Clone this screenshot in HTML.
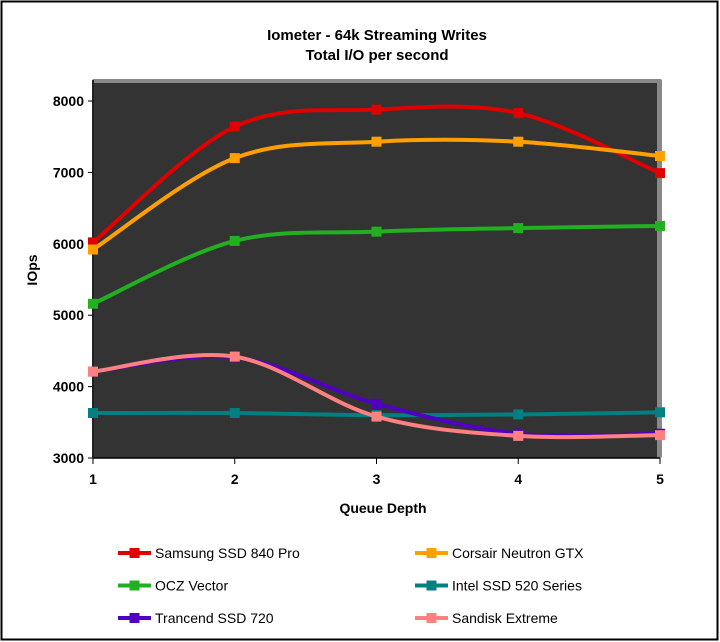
<!DOCTYPE html>
<html><head><meta charset="utf-8"><style>
html,body{margin:0;padding:0;background:#fff;}
svg{display:block;font-family:"Liberation Sans",Arial,sans-serif;}
</style></head><body>
<svg id="chart" width="720" height="642" viewBox="0 0 720 642">
<rect x="1.5" y="1.5" width="716" height="638" fill="#fff" stroke="#000" stroke-width="2"/>
<text x="377" y="40" text-anchor="middle" font-size="15" font-weight="bold">Iometer - 64k Streaming Writes</text>
<text x="377" y="60" text-anchor="middle" font-size="15" font-weight="bold">Total I/O per second</text>
<rect x="92" y="79" width="570" height="379" rx="2" fill="#888"/>
<rect x="94" y="83" width="563" height="375" fill="#333"/>
<g id="axes"></g>
<g id="series"></g>
<text x="383" y="513" text-anchor="middle" font-size="14" font-weight="bold">Queue Depth</text>
<text transform="translate(37,270) rotate(-90)" text-anchor="middle" font-size="14" font-weight="bold">IOps</text>
<g id="legend"></g>
</svg>
<script>
const categories=[1,2,3,4,5];
const yTicks=[3000,4000,5000,6000,7000,8000];
const seriesNames=["Samsung SSD 840 Pro","Corsair Neutron GTX","OCZ Vector","Intel SSD 520 Series","Trancend SSD 720","Sandisk Extreme"];
const seriesColors=["#e00000","#ffa000","#20b020","#008080","#5000c0","#ff8080"];
const samsung=[6020,7640,7880,7830,6990];
const corsair=[5920,7200,7430,7430,7230];
const ocz=[5160,6040,6170,6220,6250];
const intel=[3630,3630,3600,3610,3640];
const trancend=[4210,4410,3760,3340,3340];
const sandisk=[4210,4420,3580,3310,3320];
const allSeries=[samsung,corsair,ocz,intel,trancend,sandisk];
const NS="http://www.w3.org/2000/svg";
const x=v=>93+(v-1)*141.75;
const y=v=>458-(v-3000)*357/5000;
function mk(tag,attrs,parent){const e=document.createElementNS(NS,tag);for(const k in attrs)e.setAttribute(k,attrs[k]);parent.appendChild(e);return e;}
const axes=document.getElementById('axes');
let l=mk('line',{x1:93,y1:80,x2:93,y2:458,stroke:'#000','stroke-width':1.5},axes);


l=mk('line',{x1:93,y1:458,x2:660,y2:458,stroke:'#000','stroke-width':1.5},axes);


yTicks.forEach(t=>{
 mk('line',{x1:88,y1:y(t),x2:93,y2:y(t),stroke:'#000'},axes);
 const tx=mk('text',{x:84,y:y(t)+5,'text-anchor':'end','font-size':14,'font-weight':'bold'},axes);
 tx.textContent=t;
 
 
});
categories.forEach(c=>{
 mk('line',{x1:x(c),y1:458,x2:x(c),y2:464,stroke:'#000'},axes);
 const tx=mk('text',{x:x(c),y:484,'text-anchor':'middle','font-size':14,'font-weight':'bold'},axes);
 tx.textContent=c;
 
 
});
function smooth(pts){
 let d=`M${pts[0][0]},${pts[0][1]}`;
 for(let i=0;i<pts.length-1;i++){
  const p0=pts[i-1]||pts[i],p1=pts[i],p2=pts[i+1],p3=pts[i+2]||p2;
  const t=6;
  d+=` C${p1[0]+(p2[0]-p0[0])/t},${p1[1]+(p2[1]-p0[1])/t} ${p2[0]-(p3[0]-p1[0])/t},${p2[1]-(p3[1]-p1[1])/t} ${p2[0]},${p2[1]}`;
 }
 return d;
}
const sg=document.getElementById('series');
allSeries.forEach((vals,si)=>{
 const g=mk('g',{},sg);
 
 
 const pts=vals.map((v,i)=>[x(categories[i]),y(v)]);
 const p=mk('path',{d:smooth(pts),fill:'none',stroke:seriesColors[si],'stroke-width':4},g);
 
 
 pts.forEach(pt=>{
  const r=mk('rect',{x:pt[0]-5,y:pt[1]-5,width:10,height:10,fill:seriesColors[si]},g);
  
  
 });
});
const lg=document.getElementById('legend');
seriesNames.forEach((n,i)=>{
 const lx=i%2===0?118:415, ly=553+Math.floor(i/2)*32.5;
 const g=mk('g',{},lg);
 
 
 mk('line',{x1:lx,y1:ly,x2:lx+33,y2:ly,stroke:seriesColors[i],'stroke-width':4},g);
 mk('rect',{x:lx+11.5,y:ly-5,width:10,height:10,fill:seriesColors[i]},g);
 const t=mk('text',{x:lx+37,y:ly+5,'font-size':14},g);
 t.textContent=n;
});
</script>
</body></html>
